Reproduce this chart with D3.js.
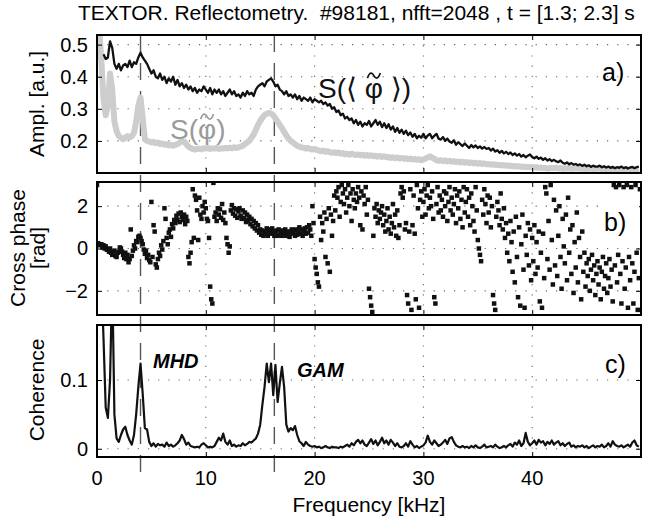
<!DOCTYPE html>
<html>
<head>
<meta charset="utf-8">
<script src="https://cdn.jsdelivr.net/npm/d3@7"></script>
<style>
body { margin: 0; background: #fff; }
text { font-family: "Liberation Sans", Arial, Helvetica, sans-serif; }
</style>
</head>
<body>
<script>
// spectra, one value per 0.2 kHz bin (row = 2 kHz)
const ampStep = 0.2

const ampAvg = [
  null, null, null, 0.47, 0.455, 0.46, 0.51, 0.49, 0.44, 0.425,
  0.44, 0.42, 0.435, 0.44, 0.43, 0.45, 0.43, 0.445, 0.44, 0.46,
  0.475, 0.46, 0.45, 0.44, 0.425, 0.41, 0.42, 0.40, 0.395, 0.41,
  0.39, 0.40, 0.38, 0.395, 0.385, 0.40, 0.375, 0.39, 0.37, 0.38,
  0.365, 0.375, 0.36, 0.37, 0.355, 0.365, 0.35, 0.36, 0.355, 0.37,
  0.36, 0.35, 0.365, 0.345, 0.36, 0.35, 0.36, 0.345, 0.355, 0.34,
  0.35, 0.36, 0.345, 0.355, 0.34, 0.345, 0.335, 0.35, 0.34, 0.355,
  0.345, 0.35, 0.34, 0.36, 0.37, 0.375, 0.38, 0.37, 0.385, 0.39,
  0.395, 0.385, 0.37, 0.375, 0.36, 0.355, 0.345, 0.355, 0.34, 0.345,
  0.335, 0.345, 0.33, 0.34, 0.325, 0.335, 0.33, 0.325, 0.335, 0.32,
  0.33, 0.325, 0.32, 0.325, 0.315, 0.32, 0.31, 0.315, 0.30, 0.305,
  0.29, 0.295, 0.28, 0.285, 0.27, 0.275, 0.265, 0.27, 0.255, 0.265,
  0.25, 0.26, 0.245, 0.255, 0.25, 0.262, 0.245, 0.255, 0.265, 0.25,
  0.26, 0.243, 0.255, 0.24, 0.252, 0.235, 0.245, 0.228, 0.24, 0.225,
  0.235, 0.222, 0.232, 0.218, 0.226, 0.213, 0.222, 0.208, 0.216, 0.21,
  0.222, 0.208, 0.217, 0.222, 0.208, 0.216, 0.222, 0.207, 0.204, 0.212,
  0.2, 0.207, 0.198, 0.194, 0.202, 0.188, 0.196, 0.19, 0.184, 0.192,
  0.185, 0.178, 0.187, 0.18, 0.186, 0.178, 0.183, 0.176, 0.181, 0.175,
  0.178, 0.17, 0.176, 0.167, 0.171, 0.163, 0.169, 0.161, 0.166, 0.159,
  0.164, 0.156, 0.161, 0.154, 0.159, 0.151, 0.156, 0.149, 0.154, 0.158,
  0.15, 0.146, 0.151, 0.144, 0.148, 0.141, 0.146, 0.139, 0.143, 0.137,
  0.141, 0.136, 0.134, 0.139, 0.132, 0.129, 0.133, 0.127, 0.131, 0.126,
  0.128, 0.124, 0.127, 0.122, 0.126, 0.121, 0.124, 0.119, 0.123, 0.12,
  0.12, 0.123, 0.118, 0.121, 0.117, 0.12, 0.116, 0.119, 0.115, 0.118,
  0.116, 0.12, 0.115, 0.118, 0.114, 0.117, 0.119, 0.115, 0.118, 0.12
]

const ampFluct = [
  0.62, 0.55, 0.45, 0.33, 0.28, 0.31, 0.41, 0.36, 0.26, 0.23,
  0.215, 0.21, 0.205, 0.21, 0.215, 0.21, 0.215, 0.225, 0.26, 0.31,
  0.335, 0.27, 0.205, 0.2, 0.198, 0.195, 0.197, 0.193, 0.195, 0.19,
  0.192, 0.188, 0.19, 0.186, 0.188, 0.185, 0.188, 0.19, 0.195, 0.2,
  0.198, 0.19, 0.182, 0.178, 0.175, 0.173, 0.175, 0.176, 0.174, 0.177,
  0.176, 0.178, 0.175, 0.177, 0.176, 0.178, 0.175, 0.177, 0.176, 0.178,
  0.177, 0.179, 0.177, 0.18, 0.178, 0.18, 0.182, 0.185, 0.19, 0.195,
  0.2, 0.21, 0.22, 0.235, 0.25, 0.262, 0.272, 0.28, 0.285, 0.287,
  0.285, 0.28, 0.27, 0.26, 0.25, 0.24, 0.228, 0.217, 0.207, 0.2,
  0.195, 0.19, 0.185, 0.182, 0.18, 0.178, 0.176, 0.178, 0.175, 0.173,
  0.175, 0.172, 0.17, 0.168, 0.17, 0.166, 0.168, 0.165, 0.163, 0.165,
  0.162, 0.164, 0.16, 0.162, 0.158, 0.16, 0.157, 0.16, 0.158, 0.156,
  0.158, 0.155, 0.157, 0.154, 0.156, 0.153, 0.155, 0.152, 0.154, 0.151,
  0.153, 0.15, 0.152, 0.149, 0.15, 0.147, 0.149, 0.146, 0.148, 0.145,
  0.147, 0.144, 0.146, 0.143, 0.145, 0.142, 0.144, 0.141, 0.143, 0.14,
  0.142, 0.145, 0.148, 0.152, 0.148, 0.144, 0.14, 0.138, 0.14, 0.137,
  0.139, 0.136, 0.138, 0.135, 0.137, 0.134, 0.136, 0.133, 0.135, 0.132,
  0.134, 0.131, 0.133, 0.13, 0.132, 0.129, 0.131, 0.128, 0.13, 0.127,
  0.128, 0.126, 0.127, 0.125, 0.126, 0.124, 0.125, 0.123, 0.124, 0.122,
  0.123, 0.121, 0.122, 0.12, 0.121, 0.119, 0.12, 0.118, 0.119, 0.118,
  0.119, 0.117, 0.118, 0.116, 0.117, 0.115, 0.116, 0.114, 0.115, 0.116,
  0.115, 0.117, 0.114, 0.116, 0.113, 0.115, 0.114, 0.116, 0.113, 0.115,
  0.114, 0.116, 0.113, 0.115, 0.112, 0.114, 0.113, 0.115, 0.112, 0.114,
  0.113, 0.115, 0.112, 0.114, 0.111, 0.113, 0.112, 0.114, 0.111, 0.113,
  0.112, 0.114, 0.111, 0.113, 0.11, 0.112, 0.111, 0.113, 0.11, 0.112
]

// cross phase in rad, one value per 0.1 kHz bin (row = 1 kHz)
const phaseStep = 0.1
const crossPhase = [
  3.0, 0.25, 0.2, 0.15, 0.2, 0.05, 0.15, 0.0, 0.1, -0.05,
  -0.05, -0.15, 0.0, -0.2, -0.3, -0.15, -0.1, -0.35, -0.4, -0.2,
  -0.15, 0.05, 0.0, -0.15, -0.3, -0.45, -0.2, -0.5, -0.3, -0.65,
  -0.5, 0.9, -0.35, -0.1, 0.15, 0.0, 0.35, 0.3, 0.55, 0.6,
  0.5, 0.35, 0.2, -0.05, -0.25, -0.1, -0.45, -0.3, -0.55, -0.65,
  2.2, -0.4, 1.1, 0.8, -0.75, -0.9, -0.5, -0.2, -0.35, 0.15,
  -0.05, 0.35, 1.9, 1.4, 0.5, 0.2, 0.75, 0.9, 0.55, 1.15,
  0.95, 1.35, 1.2, 1.55, 1.35, 1.65, 1.25, 1.7, 1.5, 1.35,
  1.6, 1.15, 1.5, 1.3, -0.4, -0.7, -0.2, 0.3, 2.8, 0.5,
  2.5, 2.3, 1.8, 0.4, 2.4, 1.6, 1.4, 2.0, 1.7, 2.2,
  1.9, 1.4, 1.3, 0.5, -1.8, -2.4, -2.6, 3.1, 1.5, 1.7,
  1.3, 1.9, 1.6, 1.85, 1.45, 2.1, 1.35, 1.7, 1.2, 0.5,
  0.2, -0.2, 0.1, 1.8, 2.05, 1.65, 1.9, 1.55, 1.85, 1.45,
  1.75, 1.9, 1.55, 1.4, 1.8, 1.45, 1.7, 1.25, 1.6, 1.35,
  1.5, 1.15, 1.4, 1.05, 1.3, 0.95, 1.2, 0.85, 1.1, 0.75,
  0.9, 0.65, 0.85, 0.6, 0.8, 0.7, 0.95, 0.6, 0.8, 0.9,
  0.7, 0.95, 0.8, 0.6, 0.7, 0.85, 0.6, 0.9, 0.65, 0.8,
  0.6, 0.85, 0.7, 0.9, 0.6, 0.8, 0.7, 0.55, 0.8, 0.9,
  0.7, 0.85, 0.6, 0.9, 0.65, 0.8, 1.0, 0.7, 0.9, 0.6,
  0.8, 0.95, 0.7, 1.0, 0.75, 1.1, 0.9, 0.6, 2.0, 1.2,
  -0.5, -0.9, -1.2, -1.6, -1.8, 1.5, 0.4, 1.2, 0.8, 1.7,
  -0.4, 1.4, -0.7, 1.9, -1.1, 1.6, 0.6, 1.3, 2.5, 1.8,
  2.7, 2.4, 2.9, 1.5, 2.2, 3.0, 2.6, 2.1, 2.8, 1.7,
  2.4, 3.0, 2.0, 2.6, 1.3, 2.8, 2.3, 1.9, 2.6, 2.2,
  2.9, 2.4, 1.1, 2.7, 0.9, 2.5, 2.1, 2.9, 1.6, 2.3,
  -1.9, -2.3, -2.7, -3.0, 0.6, 1.9, 1.5, 2.1, 1.2, 1.8,
  1.4, 1.7, 2.0, 1.1, 1.6, 0.8, 1.3, 1.9, 0.9, 1.5,
  0.7, 1.2, 2.1, 1.0, 1.6, 0.6, 1.8, 0.5, 1.1, 2.6,
  2.9, 2.4, 2.7, 0.9, 1.2, -2.2, -2.6, 0.8, 2.8, -2.9,
  1.1, 2.5, 0.7, -2.4, 3.0, 1.9, -2.8, 2.3, 2.7, 1.5,
  2.2, 2.8, 1.6, 2.5, 3.0, 1.9, 2.4, 2.0, 2.7, 1.4,
  -2.3, -2.6, 2.1, 2.9, 1.7, 2.5, 1.8, 2.3, 1.5, 2.7,
  2.0, 2.6, 1.3, 2.2, 2.9, 1.8, 2.4, 1.6, 2.1, 2.8,
  1.2, 2.5, 1.9, 2.7, 1.4, 2.3, 1.0, 2.9, 1.7, 2.2,
  2.8, 1.5, 2.4, 1.1, 2.6, 2.0, 1.3, 0.8, 2.9, 1.8,
  0.4, 0.0, -0.3, -0.6, 2.3, 1.6, 2.8, 2.1, 1.2, 2.5,
  1.7, 2.4, 1.0, 2.0, -2.2, -2.6, -2.9, 1.5, 2.2, 1.8,
  1.1, 2.6, 1.4, 0.9, 1.9, 0.5, 1.2, -0.2, 0.7, -0.6,
  1.3, 0.3, -1.1, 0.8, -1.6, 1.5, -0.4, -2.3, 1.0, -2.7,
  0.2, 1.6, -1.0, -2.8, 0.6, -0.3, 1.2, -0.8, 0.9, -1.5,
  0.5, -0.6, 1.1, -1.2, 0.3, -0.9, 0.8, -2.5, -0.2, -2.8,
  0.7, -1.4, 2.9, 2.6, -0.5, 1.3, -1.0, 3.0, 0.4, -1.7,
  2.3, -0.8, 1.8, -1.3, 0.6, 2.0, -0.4, -1.9, 1.4, 0.1,
  -0.7, 1.6, -1.5, 2.4, -0.2, 0.9, -1.2, 1.1, -2.1, 0.3,
  -0.9, 1.7, -1.6, 0.5, -0.4, -2.4, 0.8, -1.1, -0.2, -1.8,
  -0.7, -1.3, -0.5, -2.0, -1.0, -0.3, -1.5, -0.8, -2.2, -1.2,
  -0.6, -1.7, -0.9, -2.4, -1.1, -0.4, -1.9, -1.3, -0.7, -2.1,
  -1.4, -0.5, -1.8, -1.0, -2.5, 3.0, -0.8, 2.9, -1.6, -0.3,
  3.0, -1.2, -2.6, -0.6, 2.9, -1.9, -0.9, 3.0, -2.8, -0.4,
  -1.5, 2.9, -0.7, -2.6, -1.1, 3.0, -0.2, -2.9, -1.4, 2.8
]

// coherence, one value per 0.2 kHz bin
const cohStep = 0.2
const coherence = [
  0.25, 0.25, 0.25, 0.16, 0.06, 0.045, 0.10, 0.25, 0.05, 0.015,
  0.01, 0.02, 0.028, 0.032, 0.02, 0.012, 0.006, 0.02, 0.05, 0.09,
  0.124, 0.08, 0.03, 0.028, 0.01, 0.004, 0.008, 0.003, 0.007, 0.005,
  0.006, 0.003, 0.009, 0.004, 0.006, 0.003, 0.005, 0.008, 0.012, 0.02,
  0.014, 0.006, 0.009, 0.004, 0.003, 0.002, 0.003, 0.002, 0.006, 0.008,
  0.005, 0.002, 0.003, 0.002, 0.004, 0.01, 0.016, 0.012, 0.022, 0.01,
  0.006, 0.012, 0.004, 0.006, 0.003, 0.005, 0.004, 0.008, 0.005, 0.007,
  0.01, 0.009, 0.012, 0.015, 0.022, 0.035, 0.064, 0.09, 0.124, 0.097,
  0.124, 0.078, 0.122, 0.068, 0.095, 0.119, 0.09, 0.035, 0.025, 0.03,
  0.027, 0.033, 0.02, 0.011, 0.008, 0.004, 0.01, 0.006, 0.004, 0.003,
  0.004, 0.002, 0.003, 0.001, 0.002, 0.004, 0.002, 0.001, 0.003, 0.002,
  0.002, 0.001, 0.003, 0.002, 0.004, 0.006, 0.003, 0.008, 0.005, 0.01,
  0.013, 0.008, 0.012, 0.006, 0.004, 0.009, 0.014, 0.007, 0.012, 0.005,
  0.01, 0.016, 0.008, 0.012, 0.006, 0.013, 0.009, 0.004, 0.008, 0.003,
  0.002, 0.004, 0.008, 0.003, 0.011, 0.006, 0.002, 0.004, 0.001, 0.003,
  0.005, 0.009, 0.019, 0.01, 0.006, 0.012, 0.008, 0.004, 0.006, 0.009,
  0.013, 0.007, 0.015, 0.017, 0.01, 0.005, 0.003, 0.002, 0.004, 0.002,
  0.003, 0.001, 0.004, 0.002, 0.005, 0.002, 0.001, 0.003, 0.006, 0.002,
  0.003, 0.004, 0.002, 0.006, 0.003, 0.001, 0.002, 0.004, 0.002, 0.005,
  0.007, 0.003, 0.009, 0.006, 0.012, 0.004, 0.008, 0.023, 0.01, 0.005,
  0.008, 0.012, 0.006, 0.013, 0.009, 0.011, 0.005, 0.01, 0.007, 0.012,
  0.006, 0.009, 0.011, 0.005, 0.008, 0.004, 0.007, 0.009, 0.003, 0.005,
  0.002, 0.004, 0.003, 0.005, 0.002, 0.004, 0.001, 0.003, 0.005, 0.002,
  0.004, 0.003, 0.006, 0.002, 0.004, 0.008, 0.003, 0.011, 0.006, 0.004,
  0.003, 0.005, 0.002, 0.004, 0.006, 0.003, 0.009, 0.012, 0.005, 0.003
]

const markFreqs = [4, 16.3]          // MHD and GAM frequencies (dashed lines)
const freqTicks = [0, 10, 20, 30, 40]
const ampTicks = [0.2, 0.3, 0.4, 0.5]
const phaseTicks = [-2, 0, 2]
const cohTicks = [0, 0.1]

const W = 648, H = 520
const left = 97, right = 641
const FONT = '"Liberation Sans", Arial, sans-serif'

const svg = d3.select('body').append('svg')
    .attr('width', W)
    .attr('height', H)

const x = d3.scaleLinear().domain([0, 50]).range([left, right])

svg.append('text')
    .attr('x', 78).attr('y', 20)
    .attr('xml:space', 'preserve')
    .style('white-space', 'pre')
    .style('font-size', '21px')
    .text('TEXTOR. Reflectometry.  #98181, nfft=2048 , t = [1.3; 2.3] s')

// dashed markers run through all three panels
svg.selectAll('line.mark')
    .data(markFreqs)
    .enter().append('line')
    .attr('class', 'mark')
    .attr('x1', d => x(d)).attr('x2', d => x(d))
    .attr('y1', 35).attr('y2', 479)
    .attr('stroke', '#555')
    .attr('stroke-width', 1.4)
    .attr('stroke-dasharray', '17,11')

function panel(top, bottom, domain, yticks, fmt, id) {
    const y = d3.scaleLinear().domain(domain).range([bottom, top])
    const g = svg.append('g')

    g.append('clipPath').attr('id', id)
        .append('rect')
        .attr('x', left).attr('y', top)
        .attr('width', right - left).attr('height', bottom - top)

    // dotted grid
    g.selectAll('line.gx').data(freqTicks.slice(1)).enter().append('line')
        .attr('x1', d => x(d)).attr('x2', d => x(d))
        .attr('y1', top).attr('y2', bottom)
        .attr('stroke', '#666').attr('stroke-width', 1.1)
        .attr('stroke-dasharray', '1.2,9')
    g.selectAll('line.gy').data(yticks).enter().append('line')
        .attr('x1', left).attr('x2', right)
        .attr('y1', d => y(d)).attr('y2', d => y(d))
        .attr('stroke', '#666').attr('stroke-width', 1.1)
        .attr('stroke-dasharray', '1.2,9')

    const plot = g.append('g').attr('clip-path', 'url(#' + id + ')')

    // frame with inward ticks on all sides
    const frame = svg.append('g')
    frame.append('g').attr('transform', 'translate(0,' + bottom + ')')
        .call(d3.axisBottom(x).tickValues(freqTicks).tickSizeInner(-5).tickSizeOuter(0).tickFormat(''))
    frame.append('g').attr('transform', 'translate(0,' + top + ')')
        .call(d3.axisTop(x).tickValues(freqTicks).tickSizeInner(-5).tickSizeOuter(0).tickFormat(''))
    frame.append('g').attr('transform', 'translate(' + left + ',0)')
        .call(d3.axisLeft(y).tickValues(yticks).tickSizeInner(-5).tickSizeOuter(0).tickPadding(9).tickFormat(fmt))
    frame.append('g').attr('transform', 'translate(' + right + ',0)')
        .call(d3.axisRight(y).tickValues(yticks).tickSizeInner(-5).tickSizeOuter(0).tickFormat(''))
    frame.selectAll('.domain').remove()
    frame.selectAll('.tick line').attr('stroke', '#000').attr('stroke-width', 1)
    frame.selectAll('.tick text')
        .style('font-family', FONT)
        .style('font-size', '20px').attr('fill', '#000')
    frame.append('rect')
        .attr('x', left).attr('y', top)
        .attr('width', right - left).attr('height', bottom - top)
        .attr('fill', 'none').attr('stroke', '#000').attr('stroke-width', 2)

    return { y: y, plot: plot }
}

// text with a tilde stroke drawn over the phi
function tildeLabel(px, py, size, color, pre, post) {
    const t = svg.append('text').attr('x', px).attr('y', py)
        .attr('xml:space', 'preserve').style('white-space', 'pre')
        .style('font-size', size + 'px').attr('fill', color)
        .text(pre + '\u03C6' + post)
    const n = t.node()
    const i = pre.length
    const cx = (n.getStartPositionOfChar(i).x + n.getEndPositionOfChar(i).x) / 2
    const cy = py - size * 0.8
    const w = size * 0.46, h = size * 0.09
    const p = d3.path()
    p.moveTo(cx - w / 2, cy + h)
    p.bezierCurveTo(cx - w * 0.3, cy - h * 2, cx - w * 0.1, cy - h, cx, cy)
    p.bezierCurveTo(cx + w * 0.1, cy + h, cx + w * 0.3, cy + h * 2, cx + w / 2, cy - h)
    svg.append('path').attr('d', p.toString())
        .attr('fill', 'none').attr('stroke', color)
        .attr('stroke-width', size * 0.06)
}

// ---- a) amplitude spectra
const pa = panel(35, 173, [0.1, 0.53], ampTicks, d3.format('.1f'), 'clipA')
const lineA = d3.line()
    .defined(d => d != null)
    .x((d, i) => x(i * ampStep))
    .y(d => pa.y(d))

pa.plot.append('path').datum(ampFluct)
    .attr('d', lineA)
    .attr('fill', 'none')
    .attr('stroke', '#cdcdcd')
    .attr('stroke-width', 6)
    .attr('stroke-linejoin', 'round')
pa.plot.append('path').datum(ampAvg)
    .attr('d', lineA)
    .attr('fill', 'none')
    .attr('stroke', '#111')
    .attr('stroke-width', 2.3)
    .attr('stroke-linejoin', 'round')

tildeLabel(318, 98, 28, '#111', 'S(\u27E8 ', ' \u27E9)')
tildeLabel(170, 139, 28, '#9a9a9a', 'S(', ')')
svg.append('text').attr('x', 602).attr('y', 81)
    .style('font-size', '25px').text('a)')

// ---- b) cross phase
const pb = panel(182, 315, [-Math.PI, Math.PI], phaseTicks, d3.format('d'), 'clipB')
const ms = 4.5
pb.plot.selectAll('rect.pt')
    .data(crossPhase)
    .enter().append('rect')
    .attr('class', 'pt')
    .attr('x', (d, i) => x(i * phaseStep) - ms / 2)
    .attr('y', d => pb.y(d) - ms / 2)
    .attr('width', ms).attr('height', ms)
    .attr('fill', '#111')
svg.append('rect').attr('x', 601).attr('y', 201)
    .attr('width', 38).attr('height', 40).attr('fill', '#fff')
svg.append('text').attr('x', 604).attr('y', 231)
    .style('font-size', '25px').text('b)')

// ---- c) coherence
const pc = panel(325, 457, [-0.012, 0.18], cohTicks, d => d === 0 ? '0' : String(d), 'clipC')
pc.plot.append('path').datum(coherence)
    .attr('d', d3.line().x((d, i) => x(i * cohStep)).y(d => pc.y(d)))
    .attr('fill', 'none')
    .attr('stroke', '#111')
    .attr('stroke-width', 2.2)
    .attr('stroke-linejoin', 'round')

svg.append('text').attr('x', 153).attr('y', 368)
    .style('font-size', '20px').style('font-weight', 'bold').style('font-style', 'italic')
    .text('MHD')
svg.append('text').attr('x', 297).attr('y', 377)
    .style('font-size', '20px').style('font-weight', 'bold').style('font-style', 'italic')
    .text('GAM')
svg.append('text').attr('x', 605).attr('y', 373)
    .style('font-size', '25px').text('c)')

// x tick labels under the last panel
svg.append('g').selectAll('text')
    .data(freqTicks)
    .enter().append('text')
    .attr('x', d => x(d)).attr('y', 485)
    .attr('text-anchor', 'middle')
    .style('font-size', '20px')
    .text(d => d)
svg.append('text').attr('x', 369).attr('y', 512)
    .attr('text-anchor', 'middle')
    .style('font-size', '21px')
    .text('Frequency [kHz]')

// y labels
svg.append('text').attr('transform', 'translate(44,104) rotate(-90)')
    .attr('text-anchor', 'middle').style('font-size', '21px')
    .text('Ampl. [a.u.]')
svg.append('text').attr('transform', 'translate(25,248) rotate(-90)')
    .attr('text-anchor', 'middle').style('font-size', '21px')
    .text('Cross phase')
svg.append('text').attr('transform', 'translate(45,248) rotate(-90)')
    .attr('text-anchor', 'middle').style('font-size', '21px')
    .text('[rad]')
svg.append('text').attr('transform', 'translate(44,390) rotate(-90)')
    .attr('text-anchor', 'middle').style('font-size', '21px')
    .text('Coherence')
</script>
</body>
</html>
